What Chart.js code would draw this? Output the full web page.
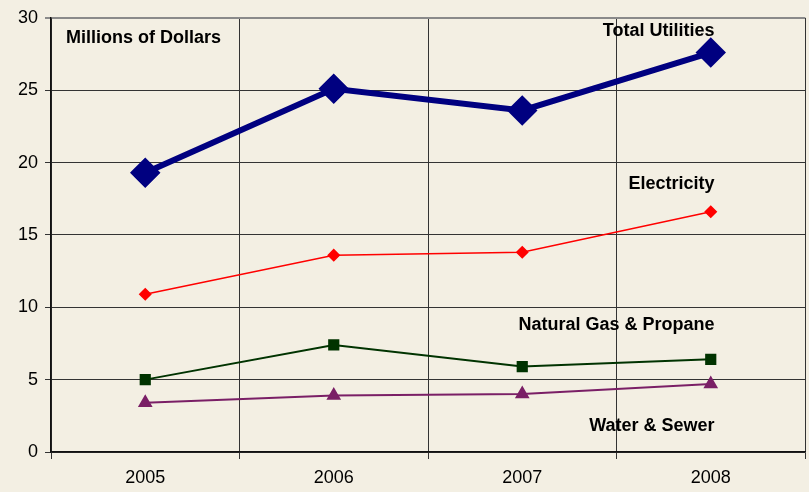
<!DOCTYPE html>
<html>
<head>
<meta charset="utf-8">
<script src="https://cdn.jsdelivr.net/npm/chart.js"></script>
<style>
  html, body { margin: 0; padding: 0; background: #f3efe3; overflow: hidden; }
  #wrap { width: 809px; height: 492px; }
  canvas { display: block; }
</style>
</head>
<body>
<div id="wrap"><canvas id="myChart" width="809" height="492"></canvas></div>
<script>
// values (millions of dollars)
const years = ['2005', '2006', '2007', '2008'];
const totalUtilities = [19.3, 25.1, 23.6, 27.6];
const electricity = [10.9, 13.6, 13.8, 16.6];
const naturalGas = [5.0, 7.4, 5.9, 6.4];
const waterSewer = [3.4, 3.9, 4.0, 4.7];
const yTicks = [0, 5, 10, 15, 20, 25, 30];

// text placed inside the plot: [text, x (category units), y (value), align]
const notes = [
  ['Millions of Dollars', -0.42, 28.6, 'left'],
  ['Total Utilities', 3.02, 29.1, 'right'],
  ['Electricity', 3.02, 18.5, 'right'],
  ['Natural Gas & Propane', 3.02, 8.8, 'right'],
  ['Water & Sewer', 3.02, 1.8, 'right']
];

const bg = '#f3efe3';

const notesPlugin = {
  id: 'notes',
  afterDatasetsDraw(chart) {
    const ctx = chart.ctx;
    const xs = chart.scales.x, ys = chart.scales.y;
    const step = xs.getPixelForValue(1) - xs.getPixelForValue(0);
    ctx.save();
    ctx.fillStyle = '#000';
    ctx.font = 'bold 18px "Liberation Sans", Arial, sans-serif';
    ctx.textBaseline = 'middle';
    notes.forEach(n => {
      ctx.textAlign = n[3];
      const px = xs.getPixelForValue(0) + n[1] * step;
      ctx.fillText(n[0], px, ys.getPixelForValue(n[2]));
    });
    ctx.restore();
  }
};

const bgPlugin = {
  id: 'bg',
  beforeDraw(chart) {
    const ctx = chart.ctx;
    ctx.save();
    ctx.fillStyle = bg;
    ctx.fillRect(0, 0, chart.width, chart.height);
    ctx.restore();
  }
};

const config = {
  type: 'line',
  data: {
    labels: years,
    datasets: [
      {
        label: 'Total Utilities',
        data: totalUtilities,
        borderColor: '#000080',
        backgroundColor: '#000080',
        borderWidth: 6,
        pointStyle: 'rectRot',
        pointRadius: 11,
        pointHoverRadius: 11
      },
      {
        label: 'Electricity',
        data: electricity,
        borderColor: '#ff0000',
        backgroundColor: '#ff0000',
        borderWidth: 1.5,
        pointStyle: 'rectRot',
        pointRadius: 5.5
      },
      {
        label: 'Natural Gas & Propane',
        data: naturalGas,
        borderColor: '#003300',
        backgroundColor: '#003300',
        borderWidth: 2,
        pointStyle: 'rect',
        pointRadius: 6.5
      },
      {
        label: 'Water & Sewer',
        data: waterSewer,
        borderColor: '#7a1f66',
        backgroundColor: '#7a1f66',
        borderWidth: 2,
        pointStyle: 'triangle',
        pointRadius: 6.5
      }
    ]
  },
  options: {
    responsive: false,
    animation: false,
    layout: { autoPadding: false, padding: { top: 16, right: 4, left: 0, bottom: 0 } },
    plugins: {
      legend: { display: false },
      tooltip: { enabled: false }
    },
    elements: { line: { tension: 0 } },
    scales: {
      x: {
        offset: true,
        grid: {
          offset: true,
          color: ctx => ctx.index === years.length ? '#8a8a8a' : '#333',
          lineWidth: ctx => ctx.index === years.length ? 2 : 1,
          tickLength: 7
        },
        border: { color: '#111', width: 1.5 },
        ticks: {
          color: '#000',
          font: { family: '"Liberation Sans", Arial, sans-serif', size: 18 },
          padding: 8
        },
        afterFit: s => {
          s.height = 40;
          s.paddingLeft = 0;
          s.paddingRight = 0;
        }
      },
      y: {
        min: 0,
        max: 30,
        afterBuildTicks: s => { s.ticks = yTicks.map(v => ({ value: v })); },
        grid: {
          color: ctx => ctx.tick && ctx.tick.value === 30 ? '#8a8a8a' : '#333',
          lineWidth: ctx => ctx.tick && ctx.tick.value === 30 ? 2 : 1,
          tickLength: 6
        },
        border: { color: '#111', width: 1.5 },
        ticks: {
          color: '#000',
          font: { family: '"Liberation Sans", Arial, sans-serif', size: 18 },
          padding: 7
        },
        afterFit: s => { s.width = 51; }
      }
    }
  },
  plugins: [bgPlugin, notesPlugin]
};

const myChart = new Chart(document.getElementById('myChart'), config);
</script>
</body>
</html>
